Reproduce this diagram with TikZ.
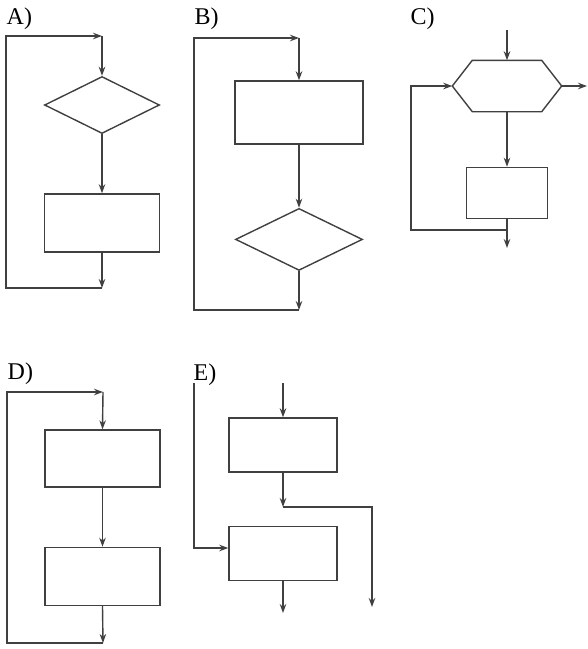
\documentclass[tikz,border=0pt]{standalone}
\usepackage{fontspec}
\setmainfont{Liberation Serif}
\usetikzlibrary{arrows.meta,shapes.geometric,positioning}
\begin{document}
\begin{tikzpicture}[x=1pt,y=-1pt,>={Stealth[length=9pt,width=6.5pt]},line width=1.4pt,draw=black!75,
    box/.style={draw,rectangle,inner sep=0pt},
    dia/.style={draw,diamond,inner sep=0pt},
    lbl/.style={anchor=base west,inner sep=0pt,font=\fontsize{24}{26}\selectfont}]

                \useasboundingbox (0,0) rectangle (588,649);

                \node[lbl] (lblA) at (6,24) {A)};
                \node[dia,minimum width=115pt,minimum height=57pt] (dA) at (102,105) {};
                \node[box,minimum width=115pt,minimum height=58pt] (rA) [below=59pt of dA] {};
                \coordinate (aTop) at (102,36);
                \coordinate (aTL) at (6,36);
                \coordinate (aBL) at (6,288);
                \coordinate (aBot) at (102,288);
                \draw[->] (aTop) -- (dA.north);
                \draw[->] (dA.south) -- (rA.north);
                \draw[->] (rA.south) -- (aBot);
                \draw[->] (aBot) -- (aBL) -- (aTL) -- (aTop);

                \node[lbl] (lblB) at (194,24) {B)};
                \node[box,minimum width=128pt,minimum height=63pt] (rB) at (299,112.5) {};
                \node[dia,minimum width=127pt,minimum height=62pt] (dB) [below=63pt of rB] {};
                \coordinate (bTop) at (299,38);
                \coordinate (bTL) at (194,38);
                \coordinate (bBL) at (194,310);
                \coordinate (bBot) at (299,310);
                \draw[->] (bTop) -- (rB.north);
                \draw[->] (rB.south) -- (dB.north);
                \draw[->] (dB.south) -- (bBot);
                \draw[->] (bBot) -- (bBL) -- (bTL) -- (bTop);

                \node[lbl] (lblC) at (410,24) {C)};
                \node[minimum width=108pt,minimum height=50pt,inner sep=0pt] (hC) at (507,86) {};
                \draw ([xshift=20pt]hC.north west) -- ([xshift=-20pt]hC.north east) -- (hC.east)
                      -- ([xshift=-20pt]hC.south east) -- ([xshift=20pt]hC.south west) -- (hC.west) -- cycle;
                \node[box,minimum width=81pt,minimum height=51pt] (rC) [below=55pt of hC] {};
                \coordinate (cIn) at (507,30);
                \coordinate (cOut) at (587,86);
                \coordinate (cJoin) at (507,230);
                \coordinate (cBL) at (411,230);
                \coordinate (cTL) at (411,86);
                \coordinate (cBot) at (507,248);
                \draw[->] (cIn) -- (hC.north);
                \draw[->] (hC.east) -- (cOut);
                \draw[->] (hC.south) -- (rC.north);
                \draw[->] (rC.south) -- (cBot);
                \draw[->] (cJoin) -- (cBL) -- (cTL) -- (hC.west);

                \node[lbl] (lblD) at (7,379) {D)};
                \node[box,minimum width=115pt,minimum height=57pt] (rD1) at (102.5,458.5) {};
                \node[box,minimum width=115pt,minimum height=58pt] (rD2) [below=59pt of rD1] {};
                \coordinate (dTop) at (103,392);
                \coordinate (dTL) at (7,392);
                \coordinate (dBL) at (7,643);
                \coordinate (dBot) at (103,643);
                \draw[->] (dTop) -- (rD1.north);
                \draw[->] (rD1.south) -- (rD2.north);
                \draw[->] (rD2.south) -- (dBot);
                \draw[->] (dBot) -- (dBL) -- (dTL) -- (dTop);

                \node[lbl] (lblE) at (193,380) {E)};
                \node[box,minimum width=108pt,minimum height=54pt] (rE1) at (283,445) {};
                \node[box,minimum width=108pt,minimum height=54pt] (rE2) [below=53pt of rE1] {};
                \coordinate (eIn) at (283,383);
                \coordinate (eJoin) at (283,507);
                \coordinate (eR) at (372,507);
                \coordinate (eROut) at (372,607);
                \coordinate (eL) at (194,383);
                \coordinate (eLB) at (194,548);
                \coordinate (eOut) at (283,613);
                \draw[->] (eIn) -- (rE1.north);
                \draw[->] (rE1.south) -- (eJoin);
                \draw[->] (eJoin) -- (eR) -- (eROut);
                \draw[->] (eL) -- (eLB) -- (rE2.west |- eLB);
                \draw[->] (rE2.south) -- (eOut);

            \end{tikzpicture}
\end{document}
